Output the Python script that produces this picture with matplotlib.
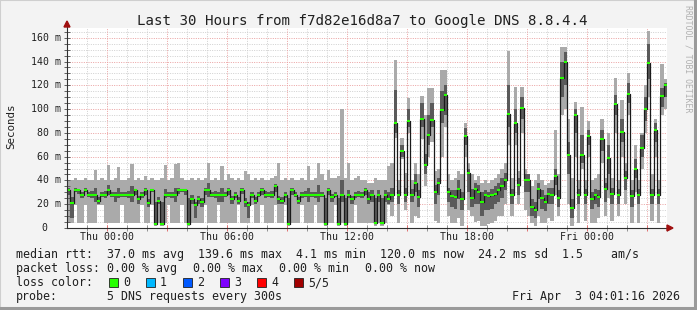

# smokeping_dns.py
# Gráfico estilo SmokePing: últimas 30 horas, f7d82e16d8a7 -> Google DNS 8.8.4.4

import numpy as np
import matplotlib
matplotlib.use("Agg")
import matplotlib.pyplot as plt
from matplotlib.patches import Polygon, Rectangle

W, H = 697, 310
STEP_MIN = 10          # resolução das amostras (min)
SPAN_MIN = 1800        # 30 horas
FIRST_MIDNIGHT = 119   # Thu 00:00 em minutos desde o início (Wed 22:01)

# ---- dados (ms), uma amostra a cada 10 min ----
median = [
    32, 21, 32, 32, 28, 32, 28, 28, 28, 23,
    28, 28, 32, 28, 28, 28, 28, 28, 28, 28,
    32, 24, 28, 32, 21, 32, 3, 23, 3, 28,
    28, 28, 28, 32, 32, 32, 3, 24, 19, 24,
    22, 32, 32, 28, 28, 28, 28, 28, 32, 24,
    28, 23, 32, 22, 19, 28, 23, 28, 32, 28,
    28, 28, 35, 24, 23, 28, 3, 32, 28, 23,
    28, 28, 28, 28, 28, 28, 28, 3, 32, 26,
    28, 3, 28, 3, 28, 24, 28, 28, 28, 32,
    24, 28, 4, 28, 4, 28, 24, 28, 88, 28,
    65, 28, 90, 28, 38, 26, 92, 53, 78, 91,
    30, 38, 99, 112, 30, 27, 26, 33, 24, 77,
    46, 25, 33, 30, 22, 28, 27, 28, 29, 32,
    35, 40, 96, 28, 88, 36, 101, 40, 40, 18,
    15, 33, 25, 22, 29, 28, 44, 25, 126, 140,
    61, 17, 95, 28, 61, 28, 77, 24, 28, 26,
    75, 33, 59, 29, 104, 28, 81, 42, 113, 27,
    50, 28, 67, 100, 139, 28, 82, 28, 111, 120,
]
ping_max = [
    40, 40, 42, 40, 40, 42, 40, 40, 49, 40,
    42, 40, 53, 40, 42, 51, 40, 40, 42, 54,
    40, 42, 40, 44, 40, 42, 40, 40, 42, 53,
    40, 42, 54, 55, 42, 40, 40, 42, 40, 42,
    40, 42, 55, 40, 42, 40, 52, 40, 45, 42,
    40, 42, 40, 48, 45, 40, 42, 40, 42, 40,
    40, 42, 44, 55, 40, 42, 40, 42, 40, 40,
    42, 40, 52, 40, 42, 55, 45, 40, 49, 42,
    42, 44, 100, 42, 55, 40, 42, 44, 40, 40,
    38, 38, 42, 40, 40, 40, 52, 55, 141, 40,
    76, 46, 109, 40, 55, 45, 111, 95, 118, 118,
    48, 50, 133, 133, 45, 40, 42, 48, 45, 88,
    55, 45, 40, 44, 38, 40, 38, 40, 42, 45,
    50, 55, 149, 42, 119, 48, 119, 50, 45, 35,
    40, 45, 40, 36, 38, 40, 82, 45, 152, 152,
    92, 42, 106, 40, 102, 40, 90, 40, 42, 45,
    92, 42, 80, 42, 126, 40, 108, 55, 130, 40,
    70, 40, 80, 120, 166, 45, 92, 40, 138, 125,
]
ping_hi = [
    34, 26, 34, 33, 30, 34, 30, 31, 34, 26,
    30, 31, 36, 30, 30, 34, 30, 30, 31, 35,
    33, 27, 30, 34, 24, 33, 22, 26, 22, 33,
    30, 30, 34, 34, 33, 33, 25, 28, 22, 27,
    25, 34, 38, 30, 31, 30, 34, 30, 34, 27,
    30, 26, 34, 25, 22, 30, 26, 30, 34, 31,
    30, 31, 37, 27, 26, 30, 25, 34, 30, 26,
    30, 31, 34, 30, 30, 36, 30, 25, 34, 29,
    30, 25, 40, 25, 32, 27, 30, 31, 30, 34,
    30, 32, 25, 32, 25, 32, 30, 34, 116, 32,
    70, 34, 100, 33, 45, 32, 105, 62, 95, 105,
    36, 42, 115, 120, 34, 32, 32, 40, 30, 84,
    50, 33, 38, 36, 30, 32, 30, 33, 35, 38,
    42, 46, 120, 33, 100, 42, 110, 45, 45, 24,
    22, 38, 32, 28, 34, 34, 50, 32, 140, 148,
    72, 24, 100, 33, 78, 33, 82, 30, 33, 32,
    82, 38, 70, 34, 112, 33, 92, 48, 122, 32,
    58, 33, 78, 110, 155, 33, 88, 33, 118, 122,
]
ping_lo = [
    28, 8, 30, 29, 25, 30, 26, 25, 22, 20,
    26, 25, 28, 26, 22, 25, 26, 26, 25, 22,
    28, 20, 25, 28, 18, 30, 3, 20, 3, 25,
    26, 25, 22, 29, 30, 28, 3, 20, 8, 20,
    18, 28, 26, 26, 25, 22, 22, 26, 28, 20,
    25, 20, 29, 18, 8, 25, 20, 26, 28, 25,
    26, 25, 30, 20, 20, 25, 3, 28, 26, 20,
    25, 26, 22, 26, 25, 22, 26, 3, 28, 22,
    26, 3, 22, 3, 25, 20, 25, 26, 25, 28,
    20, 22, 3, 22, 3, 22, 20, 22, 80, 20,
    60, 22, 85, 22, 30, 18, 85, 45, 70, 85,
    20, 28, 88, 95, 22, 18, 16, 24, 15, 70,
    30, 18, 20, 20, 10, 15, 15, 16, 20, 22,
    25, 32, 85, 20, 80, 28, 92, 30, 30, 10,
    8, 24, 16, 14, 20, 20, 36, 18, 110, 120,
    45, 8, 80, 20, 55, 20, 70, 16, 20, 18,
    65, 22, 45, 20, 95, 20, 72, 32, 105, 18,
    42, 20, 60, 90, 125, 20, 72, 20, 102, 110,
]
ping_min = [
    4, 4, 19, 4, 4, 19, 4, 4, 4, 19,
    19, 4, 4, 4, 4, 4, 19, 4, 4, 4,
    4, 4, 19, 4, 4, 19, 2, 4, 2, 4,
    19, 4, 4, 4, 19, 4, 2, 4, 4, 4,
    4, 19, 4, 4, 4, 19, 4, 4, 4, 4,
    4, 19, 4, 4, 4, 19, 4, 4, 19, 4,
    4, 4, 19, 4, 4, 19, 2, 4, 4, 4,
    19, 4, 4, 4, 19, 4, 4, 2, 4, 4,
    19, 2, 4, 2, 4, 4, 19, 4, 4, 4,
    4, 4, 2, 4, 2, 4, 19, 10, 76, 4,
    58, 15, 80, 4, 10, 8, 75, 35, 60, 72,
    6, 4, 60, 85, 10, 4, 4, 8, 2, 60,
    15, 10, 5, 6, 2, 2, 3, 4, 6, 10,
    10, 20, 70, 10, 70, 20, 80, 15, 10, 4,
    2, 10, 4, 4, 8, 6, 28, 10, 95, 100,
    20, 2, 60, 4, 50, 6, 60, 4, 4, 8,
    55, 10, 25, 6, 80, 10, 60, 20, 95, 4,
    30, 4, 50, 80, 110, 6, 60, 4, 95, 100,
]

x_labels = ["Thu 00:00", "Thu 06:00", "Thu 12:00", "Thu 18:00", "Fri 00:00"]
y_values = [20, 40, 60, 80, 100, 120, 140, 160]

loss_names = ["0", "1", "2", "3", "4", "5/5"]
loss_colors = ["#26ff00", "#00b8ff", "#0059ff", "#7e00ff", "#ff0000", "#a10000"]

# (texto, x em px) por linha da legenda
legend_rows = [
    [("median rtt:  37.0 ms avg  139.6 ms max  4.1 ms min  120.0 ms now  "
      "24.2 ms sd  1.5    am/s", 16)],
    [("packet loss:", 16), ("0.00 % avg", 107), ("0.00 % max", 193),
     ("0.00 % min", 279), ("0.00 % now", 365)],
    [("loss color:", 16)],
    [("probe:", 16), ("5 DNS requests every 300s", 107)],
]
timestamp = "Fri Apr  3 04:01:16 2026"
title = "Last 30 Hours from f7d82e16d8a7 to Google DNS 8.8.4.4"

MONO = "DejaVu Sans Mono"
Y_TOP = 168.2
INK = "#202020"


def fx(px):
    return px / W


def fy(py):
    return 1 - py / H


def ext(a):
    a = np.asarray(a, dtype=float)
    return np.append(a, a[-1])


def main():
    fig = plt.figure(figsize=(W / 100, H / 100), dpi=100, facecolor="#f3f3f3")

    # moldura
    fig.add_artist(Rectangle((0, 0), 1, 1, transform=fig.transFigure, fill=False,
                             edgecolor="#cfcfcf", lw=1.5))
    fig.add_artist(plt.Line2D([fx(695), fx(695)], [fy(1), fy(309)], color="#9a9a9a",
                              lw=2.2, transform=fig.transFigure))
    fig.add_artist(plt.Line2D([fx(1), fx(696)], [fy(308), fy(308)], color="#9a9a9a",
                              lw=2.2, transform=fig.transFigure))

    ax = fig.add_axes([fx(67), fy(228), 600 / W, 200 / H])
    ax.set_facecolor("white")
    ax.set_xlim(0, SPAN_MIN)
    ax.set_ylim(0, Y_TOP)
    for s in ax.spines.values():
        s.set_visible(False)

    # grade
    dot = (0, (1, 1.4))
    for v in np.arange(5, Y_TOP, 5):
        major = v % 20 == 0
        ax.axhline(v, color="#eaa0a0" if major else "#cfcfcf", lw=0.7, ls=dot, zorder=0)
    for m in np.arange(FIRST_MIDNIGHT - 60, SPAN_MIN, 60):
        major = (m - FIRST_MIDNIGHT) % 180 == 0
        ax.axvline(m, color="#eaa0a0" if major else "#cfcfcf", lw=0.7, ls=dot, zorder=0)

    # fumaça + mediana
    n = len(median)
    edges = np.arange(n + 1) * STEP_MIN
    ax.fill_between(edges, ext(ping_min), ext(ping_max), step="post",
                    color="#aaaaaa", lw=0, zorder=1)
    ax.fill_between(edges, ext(ping_lo), ext(ping_hi), step="post",
                    color="#5a5a5a", lw=0, zorder=2)
    ax.step(edges, ext(median), where="post", color="#1a1a1a", lw=0.9, zorder=3)
    ax.hlines(median, edges[:-1], edges[1:], color=loss_colors[0], lw=1.5, zorder=4)

    # ticks
    ax.set_yticks([0] + y_values)
    ax.set_yticks(np.arange(0, Y_TOP, 5), minor=True)
    ax.set_xticks(np.arange(FIRST_MIDNIGHT, SPAN_MIN, 180))
    ax.set_xticks(np.arange(FIRST_MIDNIGHT - 60, SPAN_MIN, 60), minor=True)
    ax.tick_params(axis="y", which="both", direction="inout", length=4, width=0.7,
                   color="#606060", labelleft=False)
    ax.tick_params(axis="x", which="major", direction="inout", length=5, width=0.7,
                   color="#e07070", labelbottom=False)
    ax.tick_params(axis="x", which="minor", direction="inout", length=4, width=0.7,
                   color="#909090", labelbottom=False)

    # eixos com setas
    ax.plot([0, SPAN_MIN], [0, 0], color="#303030", lw=0.8, clip_on=False, zorder=5)
    ax.plot([0, 0], [0, Y_TOP + 1.5], color="#303030", lw=0.8, clip_on=False, zorder=5)
    fig.add_artist(Polygon([(fx(667), fy(225)), (fx(673), fy(228)), (fx(667), fy(231))],
                           closed=True, color="#a01010", transform=fig.transFigure))
    fig.add_artist(Polygon([(fx(64), fy(27)), (fx(67), fy(21)), (fx(70), fy(27))],
                           closed=True, color="#a01010", transform=fig.transFigure))

    # rótulos
    fig.text(fx(362), fy(24.5), title, family=MONO, fontsize=10.2,
             ha="center", va="baseline", color=INK)
    fig.text(fx(11), fy(126), "Seconds", family=MONO, fontsize=7.8, rotation=90,
             ha="center", va="center", color=INK)
    fig.text(fx(688), fy(5), "RRDTOOL / TOBI OETIKER", family=MONO, fontsize=5.9,
             rotation=-90, ha="center", va="top", color="#b0b0b0")

    px_per_ms = 200 / Y_TOP
    for v in y_values:
        y = 228 - v * px_per_ms
        fig.text(fx(61), fy(y + 3), f"{v} m", family=MONO, fontsize=7.1,
                 ha="right", va="baseline", color=INK)
    fig.text(fx(47.5), fy(231), "0", family=MONO, fontsize=7.1,
             ha="right", va="baseline", color=INK)

    px_per_min = 600 / SPAN_MIN
    for k, lab in enumerate(x_labels):
        x = 67 + (FIRST_MIDNIGHT + 360 * k) * px_per_min
        fig.text(fx(x), fy(240), lab, family=MONO, fontsize=7.1,
                 ha="center", va="baseline", color=INK)

    for k, row in enumerate(legend_rows):
        for txt, x in row:
            fig.text(fx(x), fy(258 + 14 * k), txt, family=MONO, fontsize=8.4,
                     ha="left", va="baseline", color=INK)

    for k, (name, col) in enumerate(zip(loss_names, loss_colors)):
        x0 = 109 + 37 * k
        fig.add_artist(Rectangle((fx(x0), fy(287)), 9 / W, 9 / H, transform=fig.transFigure,
                                 facecolor=col, edgecolor=INK, lw=0.6))
        fig.text(fx(x0 + 14), fy(286), name, family=MONO, fontsize=8.4,
                 ha="left", va="baseline", color=INK)

    fig.text(fx(680), fy(300), timestamp, family=MONO, fontsize=8.4,
             ha="right", va="baseline", color=INK)

    fig.savefig("out.png", dpi=100, facecolor=fig.get_facecolor())
    plt.close(fig)


if __name__ == "__main__":
    main()
